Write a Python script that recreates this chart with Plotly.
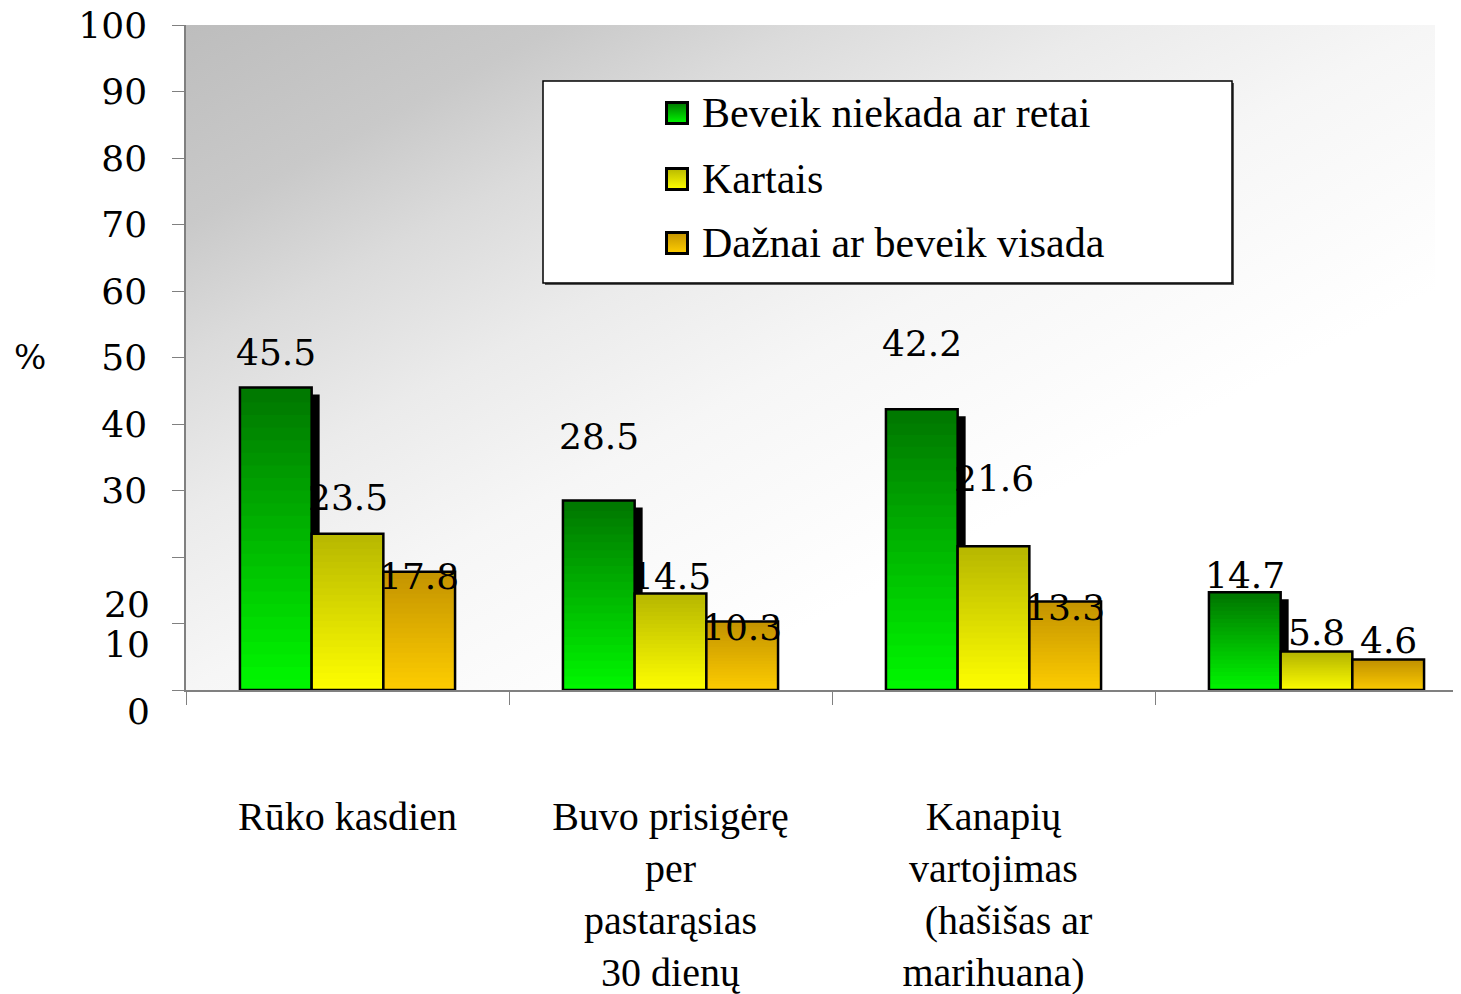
import base64

import plotly.graph_objects as go

categories = ["Rūko kasdien",
              "Buvo prisigėrę<br>per<br>pastarąsias<br>30 dienų",
              "Kanapių<br>vartojimas<br>\u00a0\u00a0\u00a0(hašišas ar<br>marihuana)",
              " "]
series_names = ["Beveik niekada ar retai", "Kartais", "Dažnai ar beveik visada"]
rarely = [45.5, 28.5, 42.2, 14.7]
sometimes = [23.5, 14.5, 21.6, 5.8]
often = [17.8, 10.3, 13.3, 4.6]
y_ticks = [0, 10, 20, 30, 40, 50, 60, 70, 80, 90, 100]

# label offsets (px) as they sit in the original slide
label_shift = [[35, 64, 66, 17],
               [36, 17, 68, 19],
               [-5, -6, -6, 19]]

# gradient (top colour, bottom colour) for each series
grad = [((0, 118, 0), (0, 250, 0)),
        ((184, 184, 0), (255, 255, 0)),
        ((196, 148, 0), (255, 206, 0))]

# page body has an 8px margin, so the figure is shrunk by that much
PAGE = 8
W, H = 1461 - PAGE, 994 - PAGE
plot_left, plot_top, plot_bottom = 186, 25, 690   # in screen pixels
L, R, T = plot_left - PAGE, 0, plot_top - PAGE
B = H - T - (plot_bottom - plot_top)
pw, ph = W - L - R, plot_bottom - plot_top
cat_px = 323.0
y_px = ph / 100.0

bar_w = 0.222
offsets = [-0.333, -0.111, 0.111]
n_seg = 24
serif = "Liberation Serif"
num_font = "DejaVu Serif"


def px_x(p):
    return (p - plot_left) / pw


def px_y(p):
    return (plot_bottom - p) / ph


def rgb(c):
    return 'rgb({},{},{})'.format(*c)


def mix(a, b, t):
    return tuple(int(round(a[i] + (b[i] - a[i]) * t)) for i in range(3))


def svg_uri(svg):
    return "data:image/svg+xml;base64," + base64.b64encode(svg.encode()).decode()


fig = go.Figure()

values = [rarely, sometimes, often]

# shadow behind the first series
fig.add_trace(go.Bar(x=categories, y=[v - 7 / y_px for v in rarely],
                     width=bar_w, offset=offsets[0] + 8 / cat_px,
                     marker=dict(color='black', line=dict(width=0)),
                     showlegend=False, hoverinfo='skip'))

for s, vals in enumerate(values):
    top, bottom = grad[s]
    for k in range(n_seg):
        t = (k + 0.5) / n_seg
        lap = 0 if k == 0 else 0.35
        fig.add_trace(go.Bar(x=categories,
                             y=[v / n_seg + lap for v in vals],
                             base=[v * k / n_seg - lap for v in vals],
                             width=bar_w, offset=offsets[s],
                             marker=dict(color=rgb(mix(bottom, top, t)), line=dict(width=0)),
                             showlegend=False, hoverinfo='skip'))
    fig.add_trace(go.Bar(x=categories, y=vals, width=bar_w, offset=offsets[s],
                         marker=dict(color='rgba(0,0,0,0)', line=dict(color='black', width=2.5)),
                         name=series_names[s], showlegend=False, hoverinfo='skip'))

# value labels
annotations = []
for s, vals in enumerate(values):
    for i, v in enumerate(vals):
        annotations.append(dict(x=i + offsets[s] + bar_w / 2, y=v, xref='x', yref='y',
                                text='{:.1f}'.format(v), showarrow=False,
                                yshift=label_shift[s][i], xanchor='center', yanchor='middle',
                                font=dict(family=num_font, size=36, color='black')))

# lower tick labels sit lower than their ticks in the original
for txt, yv in [("20", 12.8), ("10", 6.8), ("0", -3.3)]:
    annotations.append(dict(x=px_x(152), y=yv / 100, xref='paper', yref='paper', text=txt,
                            xanchor='right', yanchor='middle', showarrow=False,
                            font=dict(family=num_font, size=36, color='black')))

annotations.append(dict(x=px_x(30), y=px_y(357), xref='paper', yref='paper', text='%',
                        xanchor='center', yanchor='middle',
                        showarrow=False, font=dict(family=num_font, size=34, color='black')))

# background gradient
bg_svg = ("<svg xmlns='http://www.w3.org/2000/svg' width='100' height='100' viewBox='0 0 100 100' "
          "preserveAspectRatio='none'><defs><linearGradient id='g' x1='0' y1='0' x2='1' y2='1'>"
          "<stop offset='0' stop-color='#bdbdbd'/><stop offset='0.15' stop-color='#c9c9c9'/>"
          "<stop offset='0.25' stop-color='#dbdbdb'/><stop offset='0.37' stop-color='#ebebeb'/>"
          "<stop offset='0.5' stop-color='#f6f6f6'/><stop offset='0.7' stop-color='#ffffff'/>"
          "</linearGradient></defs><rect width='100' height='100' fill='url(#g)'/></svg>")
images = [dict(source=svg_uri(bg_svg), xref='paper', yref='paper', x=0, y=1,
               sizex=px_x(1435), sizey=1, sizing='stretch', layer='below',
               xanchor='left', yanchor='top')]

# legend box
shapes = [dict(type='rect', xref='paper', yref='paper',
               x0=px_x(545), x1=px_x(1234), y0=px_y(285), y1=px_y(83),
               fillcolor='#555555', line=dict(width=0), layer='below'),
          dict(type='rect', xref='paper', yref='paper',
               x0=px_x(543), x1=px_x(1232), y0=px_y(283), y1=px_y(81),
               fillcolor='white', line=dict(color='black', width=1.5), layer='below')]

legend_y = [113, 179, 243]
for s, name in enumerate(series_names):
    top, bottom = grad[s]
    sw_svg = ("<svg xmlns='http://www.w3.org/2000/svg' width='24' height='24' viewBox='0 0 24 24' "
              "preserveAspectRatio='none'><defs><linearGradient id='g' x1='0' y1='0' x2='0' y2='1'>"
              "<stop offset='0' stop-color='{}'/><stop offset='1' stop-color='{}'/>"
              "</linearGradient></defs><rect x='1.5' y='1.5' width='21' height='21' fill='url(#g)' "
              "stroke='black' stroke-width='3'/></svg>").format(rgb(top), rgb(bottom))
    images.append(dict(source=svg_uri(sw_svg), xref='paper', yref='paper',
                       x=px_x(665), y=px_y(legend_y[s] - 12), sizex=24 / pw, sizey=24 / ph,
                       sizing='stretch', layer='above', xanchor='left', yanchor='top'))
    annotations.append(dict(x=px_x(700), y=px_y(legend_y[s]), xref='paper', yref='paper',
                            text=name, showarrow=False, xanchor='left', yanchor='middle',
                            font=dict(family=serif, size=42, color='black')))

fig.update_layout(width=W, height=H,
                  margin=dict(l=L, r=R, t=T, b=B, autoexpand=False),
                  barmode='overlay',
                  paper_bgcolor='white', plot_bgcolor='white',
                  showlegend=False,
                  annotations=annotations, images=images, shapes=shapes)

fig.update_xaxes(type='category', range=[-0.5, -0.5 + pw / cat_px],
                 tickson='boundaries', ticks='outside', ticklen=13, tickcolor='#808080',
                 showline=True, linecolor='#808080', linewidth=1.5, showgrid=False,
                 ticklabelstandoff=90, ticklabeloverflow='allow',
                 tickfont=dict(family=serif, size=40, color='black'))

fig.update_yaxes(range=[0, 100], tickvals=y_ticks,
                 ticktext=['' if t < 30 else str(t) for t in y_ticks],
                 ticks='outside', ticklen=12, tickcolor='#808080',
                 showline=True, linecolor='#808080', linewidth=1.5, showgrid=False,
                 zeroline=False, ticklabelstandoff=18, ticklabeloverflow='allow',
                 tickfont=dict(family=num_font, size=36, color='black'))

fig.write_html("out.html")
